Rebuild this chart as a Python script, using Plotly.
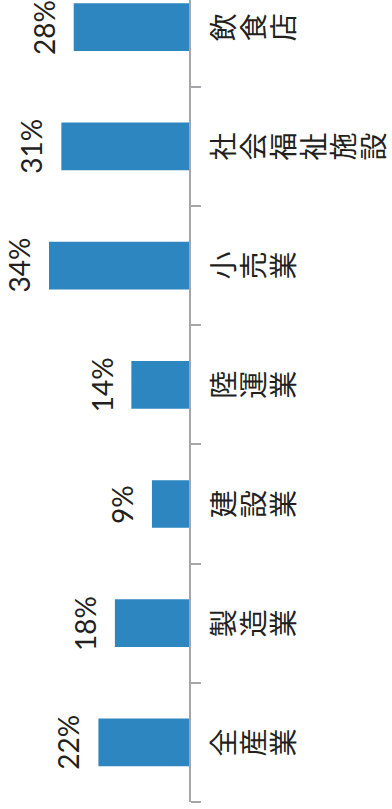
import plotly.graph_objects as go

# Share of workplaces by industry (bottom to top)
categories = ["全産業", "製造業", "建設業", "陸運業", "小売業", "社会福祉施設", "飲食店"]
values = [22, 18, 9, 14, 34, 31, 28]
value_labels = [f"{v}%" for v in values]

BAR_COLOR = "#2E86C1"
AXIS_COLOR = "#A6A6A8"
TEXT_COLOR = "#231F20"

fig = go.Figure(
    go.Bar(
        x=values,
        y=categories,
        orientation="h",
        marker=dict(color=BAR_COLOR, line=dict(width=0)),
        width=0.4,
        hoverinfo="skip",
    )
)

annotations = []
# value labels, rotated to read bottom-to-top, just beyond each bar end
for cat, v, lab in zip(categories, values, value_labels):
    annotations.append(
        dict(
            x=v, y=cat, xref="x", yref="y",
            text=lab, textangle=-90, showarrow=False,
            xanchor="center", yanchor="middle", xshift=-30,
            font=dict(family="Lato, Noto Sans", size=28, color=TEXT_COLOR),
        )
    )

# category names: characters laid out left to right, each turned a quarter turn
for cat in categories:
    for k, ch in enumerate(cat):
        annotations.append(
            dict(
                x=1, y=cat, xref="paper", yref="y",
                text=ch, textangle=-90, showarrow=False,
                xanchor="center", yanchor="middle", xshift=33 + 30 * k,
                borderpad=0,
                font=dict(family="Noto Sans CJK JP", size=28, color=TEXT_COLOR),
            )
        )

fig.update_layout(
    width=392,
    height=809,
    margin=dict(l=0, r=203, t=0, b=7),
    paper_bgcolor="white",
    plot_bgcolor="white",
    showlegend=False,
    bargap=0.6,
    annotations=annotations,
    xaxis=dict(
        range=[45.9, 0],
        showgrid=False,
        zeroline=False,
        showline=False,
        showticklabels=False,
        ticks="",
    ),
    yaxis=dict(
        type="category",
        categoryorder="array",
        categoryarray=categories,
        range=[-0.5, 6.228],
        side="right",
        showgrid=False,
        zeroline=False,
        showline=True,
        linecolor=AXIS_COLOR,
        linewidth=2,
        ticks="outside",
        tickson="boundaries",
        ticklen=10,
        tickwidth=1.5,
        tickcolor=AXIS_COLOR,
        showticklabels=False,
    ),
)

fig.write_html("out.html")
